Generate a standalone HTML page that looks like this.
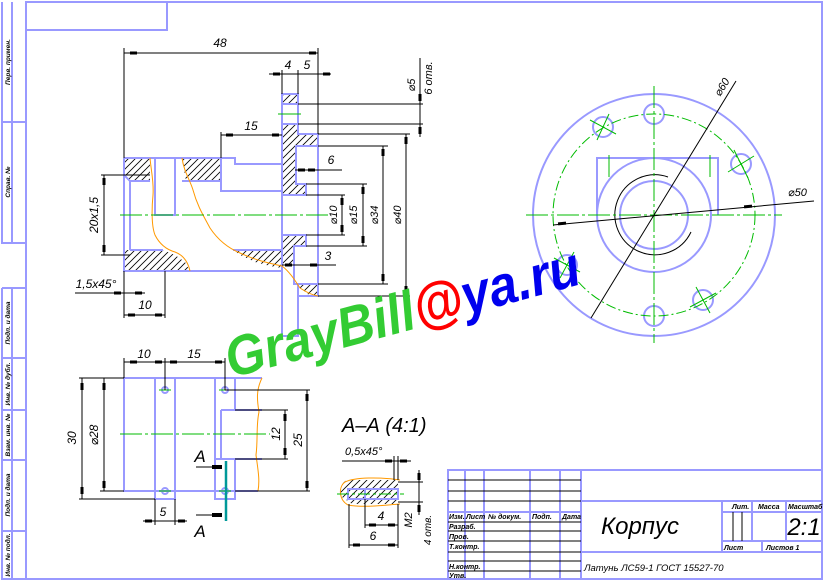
<!DOCTYPE html>
<html><head><meta charset="utf-8"><style>
html,body{margin:0;padding:0;background:#fff;}
svg{display:block;}
text{font-family:"Liberation Sans","DejaVu Sans",sans-serif;font-style:italic;fill:#000;}
</style></head><body>
<svg width="826" height="583" viewBox="0 0 826 583" xmlns="http://www.w3.org/2000/svg">
<defs>
<pattern id="h" patternUnits="userSpaceOnUse" width="7" height="7">
<path d="M-1,8 L8,-1 M-1,1 L1,-1 M6,8 L8,6" stroke="#000" stroke-width="0.8"/>
</pattern>
</defs>
<rect width="826" height="583" fill="#fff"/>
<g fill="none" stroke="#9999ff" stroke-width="2">
<path d="M26,2 H822 V579 H26 Z"/>
<path d="M26,30 H167 V2"/>
<path d="M2,2 V243 H26 M12,2 V243 M2,122 H26"/>
<path d="M2,288 V579 H26 M12,288 V579 M2,288 H26 M2,358 H26 M2,410 H26 M2,460 H26 M2,531 H26"/>
<path d="M448,579 V470 H822 M581,470 V579 M448,512 H581 M581,501 H822 M581,552 H822 M722,501 V552 M752,501 V541 M786,501 V541 M722,512 H822 M722,541 H822 M762,541 V552"/>
<path d="M465,470 V579 M484,470 V579 M530,470 V579 M560,470 V579"/>
</g>
<g stroke="#000" stroke-width="1" fill="none">
<path d="M448,480 H581 M448,491 H581 M448,501 H581 M448,522 H581 M448,531 H581 M448,541 H581 M448,552 H581 M448,561 H581 M448,571 H581"/>
<path d="M733,512 V541 M742,512 V541"/>
</g>
<g font-size="7" font-weight="bold">
<text x="449" y="519">Изм.</text><text x="466" y="519">Лист</text><text x="488" y="519">№ докум.</text><text x="532" y="519">Подп.</text><text x="562" y="519">Дата</text>
<text x="449" y="529">Разраб.</text><text x="449" y="539">Пров.</text><text x="449" y="549">Т.контр.</text>
<text x="449" y="569">Н.контр.</text><text x="449" y="578">Утв.</text>
<text x="732" y="509">Лит.</text><text x="758" y="509">Масса</text><text x="788" y="509">Масштаб</text>
<text x="724" y="550">Лист</text><text x="766" y="550">Листов 1</text>
</g>
<text x="640" y="534" font-size="24" text-anchor="middle">Корпус</text>
<text x="804" y="535" font-size="24" text-anchor="middle">2:1</text>
<text x="584" y="571" font-size="9.5">Латунь ЛС59-1 ГОСТ 15527-70</text>
<g font-size="6.5" font-weight="bold">
<text transform="translate(10,62) rotate(-90)" text-anchor="middle">Перв. примен.</text>
<text transform="translate(10,182) rotate(-90)" text-anchor="middle">Справ. №</text>
<text transform="translate(10,323) rotate(-90)" text-anchor="middle">Подп. и дата</text>
<text transform="translate(10,384) rotate(-90)" text-anchor="middle">Инв. № дубл.</text>
<text transform="translate(10,435) rotate(-90)" text-anchor="middle">Взам. инв. №</text>
<text transform="translate(10,495) rotate(-90)" text-anchor="middle">Подп. и дата</text>
<text transform="translate(10,555) rotate(-90)" text-anchor="middle">Инв. № подл.</text>
</g>

<g fill="url(#h)" stroke="none">
<path d="M282,94 H298 V104 H282 Z"/>
<path d="M282,124 H298 V134 H318 V146 H296 V184 H306 V195 H282 Z"/>
<path d="M282,235 H306 V246 H294 V265 H282 Z"/>
<path d="M298,284 H318 V296 H310 L298,286 Z"/>
<path d="M124,158 H150 V181 H130 L124,175 Z"/>
<path d="M182,158 H221 V181 H186 Z"/>
<path d="M124,250 H163 L175,255 L185,262 L190,271 H124 Z"/>
<path d="M233,250 H282 V268 L270,266 L255,262 L240,255 Z"/>
</g>
<g fill="none" stroke="#9999ff" stroke-width="2">
<path d="M282,94 H298 V134 H318 V296 H298 V336 H282 Z"/>
<path d="M282,104 H298 M282,124 H298"/>
<path d="M318,146 H296 V184 H306 V195 H282 M282,235 H306 V246 H294 V284 H318 M298,296 V284"/>
<path d="M124,158 H235 V164 H282 M124,158 V271 H282"/>
<path d="M130,181 V250 M124,175 L130,181 H150 M130,250 H163 M233,250 H282"/>
<path d="M155,158 V215 H175 V158"/>
<path d="M182,181 H221 V158 M221,181 V191 H282"/>
</g>
<g fill="none" stroke="#ff9900" stroke-width="1">
<path d="M150,158 C151,170 154,182 153,195 C152,205 151,225 155,235 C160,245 168,250 175,252 C183,255 188,262 190,271"/>
<path d="M182,158 C184,172 190,180 193,190 C197,205 203,215 210,228 C218,240 228,248 240,253 C255,260 268,263 282,266 C290,272 296,282 300,288 C306,292 312,295 318,296"/>
</g>
<g stroke="#00bb00" stroke-width="1" fill="none">
<path d="M120,215 H330" stroke-dasharray="22,3,3,3"/>
<path d="M278,114 H301"/>
</g>
<g stroke="#000" stroke-width="1" fill="none">
<path d="M124,48 V158 M318,48 V134 M124,53 H318"/>
<path d="M282,70 V94 M298,70 V94 M269,74 H331"/>
<path d="M298,104 H423 M298,124 H423 M420,58 V137"/>
<path d="M318,134 H410 M318,296 H410 M406,134 V296"/>
<path d="M318,146 H388 M318,284 H388 M383,146 V284"/>
<path d="M306,184 H367 M306,246 H367 M363,184 V246"/>
<path d="M306,195 H345 M306,235 H345 M342,195 V235"/>
<path d="M295,170 H342 M282,265 H336"/>
<path d="M221,132 V158 M221,135 H282"/>
<path d="M101,175 H150 M101,255 H130 M104,175 V255"/>
<path d="M75,293 H145 M124,271 V318 M165,271 V318 M124,315 H165"/>
</g>
<g fill="#000">
<rect x="130" y="51.5" width="7" height="3"/><rect x="309" y="51.5" width="7" height="3"/>
<rect x="273" y="72.5" width="7" height="3"/><rect x="323" y="72.5" width="7" height="3"/>
<rect x="226" y="133.5" width="7" height="3"/><rect x="272" y="133.5" width="7" height="3"/>
<rect x="418.5" y="94" width="3" height="7"/><rect x="418.5" y="127" width="3" height="7"/>
<rect x="404.5" y="137" width="3" height="7"/><rect x="404.5" y="286" width="3" height="7"/>
<rect x="381.5" y="149" width="3" height="7"/><rect x="381.5" y="274" width="3" height="7"/>
<rect x="361.5" y="187" width="3" height="7"/><rect x="361.5" y="236" width="3" height="7"/>
<rect x="340.5" y="198" width="3" height="7"/><rect x="340.5" y="225" width="3" height="7"/>
<rect x="298" y="168.5" width="7" height="3"/><rect x="308" y="168.5" width="7" height="3"/>
<rect x="285" y="263.5" width="7" height="3"/><rect x="310" y="263.5" width="7" height="3"/>
<rect x="102.5" y="178" width="3" height="7"/><rect x="102.5" y="245" width="3" height="7"/>
<rect x="114" y="291.5" width="7" height="3"/><rect x="135" y="291.5" width="7" height="3"/>
<rect x="128" y="313.5" width="7" height="3"/><rect x="155" y="313.5" width="7" height="3"/>
</g>
<g font-size="12">
<text x="220" y="47" text-anchor="middle">48</text>
<text x="288" y="69" text-anchor="middle">4</text><text x="307" y="69" text-anchor="middle">5</text>
<text x="251" y="130" text-anchor="middle">15</text>
<text x="331" y="164" text-anchor="middle">6</text>
<text x="328" y="260" text-anchor="middle">3</text>
<text x="145" y="309" text-anchor="middle">10</text>
<text x="96" y="288" text-anchor="middle">1,5x45°</text>
<text transform="translate(98,215) rotate(-90)" text-anchor="middle">20x1,5</text>
<text transform="translate(337,215) rotate(-90)" text-anchor="middle" font-size="11">⌀10</text>
<text transform="translate(357,215) rotate(-90)" text-anchor="middle" font-size="11">⌀15</text>
<text transform="translate(378,215) rotate(-90)" text-anchor="middle" font-size="11">⌀34</text>
<text transform="translate(401,215) rotate(-90)" text-anchor="middle" font-size="11">⌀40</text>
<text transform="translate(415,85) rotate(-90)" text-anchor="middle" font-size="11">⌀5</text>
<text transform="translate(432,78) rotate(-90)" text-anchor="middle" font-size="11">6 отв.</text>
</g>

<g fill="none" stroke="#9999ff" stroke-width="2">
<circle cx="654" cy="215" r="121"/>
<circle cx="654" cy="215" r="57"/>
<circle cx="654" cy="215" r="34"/>
<path d="M597,215 V158 H718 V215"/>
<circle cx="603" cy="127" r="10"/><circle cx="654" cy="114" r="10"/><circle cx="741" cy="164" r="10"/>
<circle cx="703" cy="300" r="10"/><circle cx="654" cy="316" r="10"/><circle cx="567" cy="265" r="10"/>
</g>
<path d="M668,177 A40,40 0 1,0 691,232" fill="none" stroke="#000" stroke-width="1"/>
<g stroke="#00bb00" stroke-width="1" fill="none">
<circle cx="654" cy="215" r="101" stroke-dasharray="10,3,2,3"/>
<path d="M526,215 H782 M654,86 V343" stroke-dasharray="22,3,3,3"/>
<path d="M609,155 V177 M710,155 V177"/>
<path d="M590,120 L616,134 M597,140 L609,114 M728,172 L754,156 M734,150 L748,178 M690,307 L716,293 M696,287 L710,313 M554,258 L580,272 M560,278 L574,252"/>
</g>
<g stroke="#000" stroke-width="1" fill="none">
<path d="M591,318 L736,81 M553,225 L814,201"/>
</g>
<g fill="#000"><rect x="558" y="222" width="8" height="3" transform="rotate(-5 562 223)"/><rect x="744" y="205" width="8" height="3" transform="rotate(-5 748 206)"/></g>
<text transform="translate(720,97) rotate(-58)" font-size="11">⌀60</text>
<text x="788" y="196" font-size="11">⌀50</text>

<g fill="none" stroke="#9999ff" stroke-width="2">
<path d="M262,378 H124 V491 H258"/>
<path d="M155,378 V499 H175 V378"/>
<path d="M215,378 V499 H235 V459 M235,378 V410"/>
<path d="M221,410 H262 M221,459 H262 M221,410 V459 M215,459 H221"/>
<circle cx="165" cy="390" r="3"/><circle cx="225" cy="390" r="3"/><circle cx="165" cy="491" r="3"/><circle cx="225" cy="491" r="3"/>
</g>
<path d="M262,378 C256,390 257,400 259,412 C256,425 258,440 256,455 C258,470 260,480 258,491" fill="none" stroke="#ff9900" stroke-width="1"/>
<g stroke="#00bb00" stroke-width="1" fill="none">
<path d="M120,434 H270" stroke-dasharray="22,3,3,3"/>
<path d="M159,390 H171 M219,390 H231 M159,491 H171 M219,491 H231"/>
</g>
<path d="M226,461 V521" stroke="#009999" stroke-width="2.5"/>
<g stroke="#000" stroke-width="1" fill="none">
<path d="M124,358 V378 M165,358 V390 M225,358 V390 M124,362 H225"/>
<path d="M79,378 H124 M79,499 H155 M82,378 V499 M100,491 H124 M104,378 V491"/>
<path d="M235,410 H288 M235,459 H288 M285,410 V459"/>
<path d="M225,390 H310 M235,491 H310 M307,390 V491"/>
<path d="M155,499 V525 M175,499 V525 M143,521 H187"/>
<path d="M196,467 H222 M196,515 H222"/>
</g>
<g fill="#000">
<rect x="130" y="360.5" width="7" height="3"/><rect x="155" y="360.5" width="7" height="3"/><rect x="170" y="360.5" width="7" height="3"/><rect x="215" y="360.5" width="7" height="3"/>
<rect x="80.5" y="383" width="3" height="7"/><rect x="80.5" y="487" width="3" height="7"/>
<rect x="102.5" y="383" width="3" height="7"/><rect x="102.5" y="481" width="3" height="7"/>
<rect x="283.5" y="414" width="3" height="7"/><rect x="283.5" y="448" width="3" height="7"/>
<rect x="305.5" y="394" width="3" height="7"/><rect x="305.5" y="481" width="3" height="7"/>
<rect x="145" y="519.5" width="7" height="3"/><rect x="178" y="519.5" width="7" height="3"/>
<rect x="212" y="465" width="10" height="4"/><rect x="212" y="513" width="10" height="4"/>
</g>
<g font-size="12">
<text x="144" y="358" text-anchor="middle">10</text>
<text x="194" y="358" text-anchor="middle">15</text>
<text x="163" y="516" text-anchor="middle">5</text>
<text transform="translate(76,438) rotate(-90)" text-anchor="middle">30</text>
<text transform="translate(98,435) rotate(-90)" text-anchor="middle">⌀28</text>
<text transform="translate(280,434) rotate(-90)" text-anchor="middle">12</text>
<text transform="translate(302,440) rotate(-90)" text-anchor="middle">25</text>
<text x="200" y="462" text-anchor="middle" font-size="17">A</text>
<text x="200" y="537" text-anchor="middle" font-size="17">A</text>
</g>

<text x="342" y="432" font-size="20">А–А (4:1)</text>
<text x="345" y="455" font-size="11">0,5x45°</text>
<path d="M348,480 H398 V504 H352 L342,497 C338,490 342,481 348,480 Z" fill="url(#h)"/>
<path d="M400,480 C380,477 355,477 345,482 C338,487 339,500 348,505 C365,508 385,505 400,504" fill="none" stroke="#ff9900" stroke-width="1"/>
<g fill="none" stroke="#9999ff" stroke-width="2">
<path d="M348,489 H398 V499 H348 Z M365,489 V499"/>
</g>
<path d="M337,494 H404" stroke="#00bb00" stroke-width="1" stroke-dasharray="12,3,3,3"/>
<g stroke="#000" stroke-width="1" fill="none">
<path d="M342,461 H411 M394,456 V480 M398,456 V480"/>
<path d="M398,482 H423 M398,502 H423 M419,470 V515"/>
<path d="M365,499 V528 M349,504 V548 M398,504 V548 M365,525 H398 M349,545 H398"/>
</g>
<g fill="#000">
<rect x="385" y="459.5" width="7" height="3"/><rect x="400" y="459.5" width="7" height="3"/>
<rect x="417.5" y="473" width="3" height="7"/><rect x="417.5" y="505" width="3" height="7"/>
<rect x="369" y="523.5" width="7" height="3"/><rect x="388" y="523.5" width="7" height="3"/>
<rect x="353" y="543.5" width="7" height="3"/><rect x="388" y="543.5" width="7" height="3"/>
</g>
<text x="381" y="520" font-size="12" text-anchor="middle">4</text>
<text x="373" y="540" font-size="12" text-anchor="middle">6</text>
<text transform="translate(412,520) rotate(-90)" font-size="11" text-anchor="middle">M2</text>
<text transform="translate(431,530) rotate(-90)" font-size="10" text-anchor="middle">4 отв.</text>

<text transform="translate(231,378) rotate(-15)" font-size="56" font-style="normal" font-weight="bold" textLength="365" lengthAdjust="spacingAndGlyphs"><tspan fill="#33cc33">GrayBill</tspan><tspan fill="#ff0000">@</tspan><tspan fill="#0000ee">ya.ru</tspan></text>
</svg>
</body></html>
